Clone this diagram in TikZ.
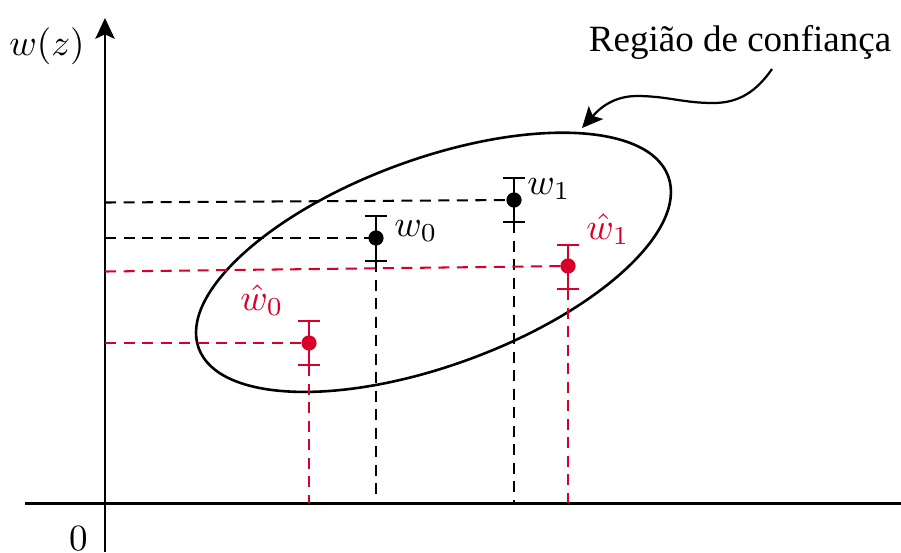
\documentclass[tikz,border=0pt]{standalone}
\usepackage{fontspec}
\setmainfont{Liberation Serif}
\usetikzlibrary{arrows.meta}
\definecolor{myred}{RGB}{214,0,40}
\begin{document}
\begin{tikzpicture}[x=0.27pt,y=0.27pt,
  axisline/.style={line width=0.8pt},
  ebar/.style={line width=0.6pt},
  proj/.style={dash pattern=on 3pt off 2pt, line width=0.55pt},
  dotnode/.style={circle, fill, inner sep=0pt, minimum size=4.1pt},
  lbl/.style={inner sep=0.5pt},
  tip/.style={-{Stealth[length=5.6pt,width=5.2pt,inset=1.2pt]}}]
\useasboundingbox (0,0) rectangle (901,-552);
% axes
\coordinate (xl) at (25,-503);
\coordinate (xr) at (901,-503);
\coordinate (yb) at (105,-552);
\coordinate (yt) at (105,-18);
\draw[axisline] (xl) -- (xr);
\draw[axisline,tip] (yb) -- (yt);
\node[lbl] (wz) at (47,-46) {$w(z)$};
\node[lbl,anchor=base] (zero) at (78.5,-550) {$0$};
% confidence region
\coordinate (ec) at (433.5,-262.3);
\draw[line width=0.7pt, rotate around={20.1:(ec)}] (ec) ellipse [x radius=67.5pt, y radius=27.9pt];
% points
\coordinate (w0) at (376,-238);
\coordinate (w1) at (514,-200);
\coordinate (hw0) at (309,-343);
\coordinate (hw1) at (568,-266);
% bar ends
\coordinate (w0t) at (376,-216); \coordinate (w0b) at (376,-261);
\coordinate (w1t) at (514,-178); \coordinate (w1b) at (514,-222);
\coordinate (hw0t) at (309,-321); \coordinate (hw0b) at (309,-365);
\coordinate (hw1t) at (568,-245); \coordinate (hw1b) at (568,-289);
% projection ends
\coordinate (w0l) at (105,-238); \coordinate (w0x) at (376,-503);
\coordinate (w1l) at (105,-202.5); \coordinate (w1x) at (514,-503);
\coordinate (hw0l) at (105,-343); \coordinate (hw0x) at (309,-503);
\coordinate (hw1l) at (105,-271.5); \coordinate (hw1x) at (568,-503);
% projections
\draw[proj] (w0l) -- (w0);
\draw[proj] (w1l) -- (w1);
\draw[proj] (w0b) -- (w0x);
\draw[proj] (w1b) -- (w1x);
\draw[proj,myred] (hw0l) -- (hw0);
\draw[proj,myred] (hw1l) -- (hw1);
\draw[proj,myred] (hw0b) -- (hw0x);
\draw[proj,myred] (hw1b) -- (hw1x);
% error bars
\foreach \p/\c in {w0/black,w1/black,hw0/myred,hw1/myred}{
  \draw[ebar,\c] (\p t) -- (\p b);
  \draw[ebar,\c] ([xshift=-3pt]\p t) -- ([xshift=3pt]\p t);
  \draw[ebar,\c] ([xshift=-3pt]\p b) -- ([xshift=3pt]\p b);
}
\node[dotnode] (dw0) at (w0) {};
\node[dotnode] (dw1) at (w1) {};
\node[dotnode,myred] (dhw0) at (hw0) {};
\node[dotnode,myred] (dhw1) at (hw1) {};
% labels
\node[lbl] (lw0) at (416,-231) {$w_0$};
\node[lbl] (lw1) at (549,-189) {$w_1$};
\node[lbl,myred] (lhw0) at (262,-300) {$\hat{w}_0$};
\node[lbl,myred] (lhw1) at (608,-229) {$\hat{w}_1$};
% annotation
\node[lbl,anchor=base] (reg) at (740,-51) {Região de confiança};
\coordinate (as) at (772,-69);
\coordinate (at) at (713,-103);
\coordinate (ap) at (637,-96);
\coordinate (ae) at (582,-128);
\draw[line width=0.6pt,tip] (as) to[out=235,in=0] (at) to[out=180,in=0] (ap) to[out=180,in=48] (ae);
\end{tikzpicture}
\end{document}
